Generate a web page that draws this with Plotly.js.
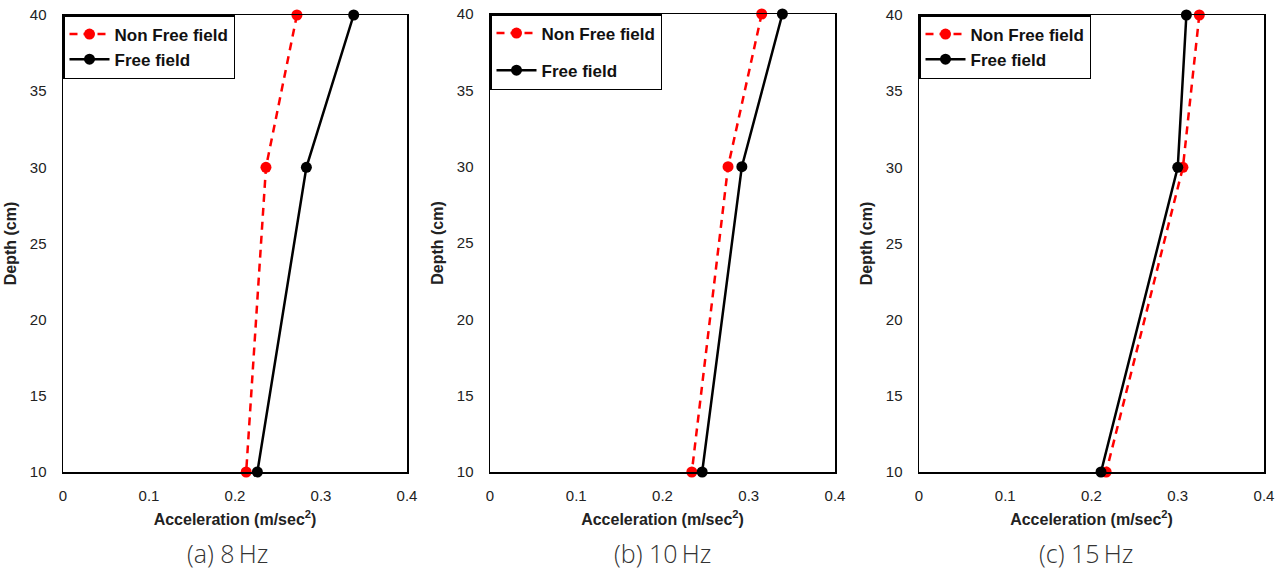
<!DOCTYPE html>
<html><head><meta charset="utf-8">
<script src="https://cdn.plot.ly/plotly-3.0.1.min.js"></script>
<style>body{margin:0;background:#fff}</style>
</head><body>
<div id="chart" style="width:1287px;height:573px"></div>
<script>
const depth = [40, 30, 10];
const nonFree8 = [0.272, 0.236, 0.213];
const free8 = [0.338, 0.283, 0.226];
const nonFree10 = [0.315, 0.276, 0.234];
const free10 = [0.339, 0.292, 0.246];
const nonFree15 = [0.325, 0.306, 0.217];
const free15 = [0.310, 0.300, 0.211];
const captions = ['(a) 8\u2009Hz', '(b) 10\u2009Hz', '(c) 15\u2009Hz'];
const seriesNames = ['Non Free field', 'Free field'];

const W = 1287, H = 573;
const panels = [
  {x0: 63, x1: 407, yTop: 15, nf: nonFree8, f: free8, legH: 0, capOff: -8},
  {x0: 490, x1: 835, yTop: 14, nf: nonFree10, f: free10, legH: 1, capOff: 0},
  {x0: 919, x1: 1264, yTop: 15, nf: nonFree15, f: free15, legH: 0, capOff: -6}
];
const yBot = 472;
const traces = [];
const axFont = {family: 'Liberation Sans, Arial', size: 15, color: '#222'};
const titleFont = {family: 'Liberation Sans, Arial', size: 16, color: '#222'};
const layout = {
  width: W, height: H, margin: {l: 0, r: 0, t: 0, b: 0},
  paper_bgcolor: '#fff', plot_bgcolor: '#fff', showlegend: true,
  annotations: []
};
panels.forEach((p, i) => {
  const sfx = i === 0 ? '' : String(i + 1);
  const leg = i === 0 ? 'legend' : 'legend' + (i + 1);
  traces.push({
    x: p.nf, y: depth, type: 'scatter', mode: 'lines+markers', name: '<b>' + seriesNames[0] + '</b>',
    xaxis: 'x' + sfx, yaxis: 'y' + sfx, legend: leg, cliponaxis: false,
    line: {color: '#ff0000', width: 2.5, dash: '8px,6px'},
    marker: {color: '#ff0000', size: 11}, legendgroup: 'a' + i
  });
  traces.push({
    x: p.f, y: depth, type: 'scatter', mode: 'lines+markers', name: '<b>' + seriesNames[1] + '</b>',
    xaxis: 'x' + sfx, yaxis: 'y' + sfx, legend: leg, cliponaxis: false,
    line: {color: '#000000', width: 2.5},
    marker: {color: '#000000', size: 11}, legendgroup: 'b' + i
  });
  layout['xaxis' + sfx] = {
    domain: [p.x0 / W, p.x1 / W], anchor: 'y' + sfx, range: [0, 0.4],
    tickvals: [0, 0.1, 0.2, 0.3, 0.4], ticktext: ['0', '0.1', '0.2', '0.3', '0.4'],
    showgrid: false, zeroline: false, showline: true, mirror: true,
    linecolor: '#000', linewidth: 1.5, ticks: 'outside', ticklen: 9, tickcolor: 'rgba(0,0,0,0)',
    tickfont: axFont,
    title: {text: '<b>Acceleration (m/sec<sup>2</sup>)</b>', standoff: 11, font: titleFont}
  };
  layout['yaxis' + sfx] = {
    domain: [(H - yBot) / H, (H - p.yTop) / H], anchor: 'x' + sfx, range: [10, 40],
    tickvals: [10, 15, 20, 25, 30, 35, 40],
    showgrid: false, zeroline: false, showline: true, mirror: true,
    linecolor: '#000', linewidth: 1.5, ticks: 'outside', ticklen: 12, tickcolor: 'rgba(0,0,0,0)',
    tickfont: axFont,
    title: {text: '<b>Depth (cm)</b>', standoff: 9, font: titleFont}
  };
  layout[leg] = {
    x: p.x0 / W, y: (H - p.yTop) / H, xanchor: 'left', yanchor: 'top',
    xref: 'paper', yref: 'paper',
    bordercolor: '#000', borderwidth: 1.5, bgcolor: '#fff',
    font: {family: 'Liberation Sans, Arial', size: 17, color: '#111'},
    traceorder: 'grouped', tracegroupgap: p.legH ? 12 : 0, itemwidth: 40
  };
  layout.annotations.push({
    text: captions[i], xref: 'paper', yref: 'paper',
    x: ((p.x0 + p.x1) / 2 + p.capOff) / W, y: (H - 553) / H, xanchor: 'center', yanchor: 'middle',
    showarrow: false, font: {family: 'Open Sans', size: 25, color: '#333', weight: 300}
  });
});
Plotly.newPlot('chart', traces, layout, {displayModeBar: false, staticPlot: true});
</script>
</body></html>
